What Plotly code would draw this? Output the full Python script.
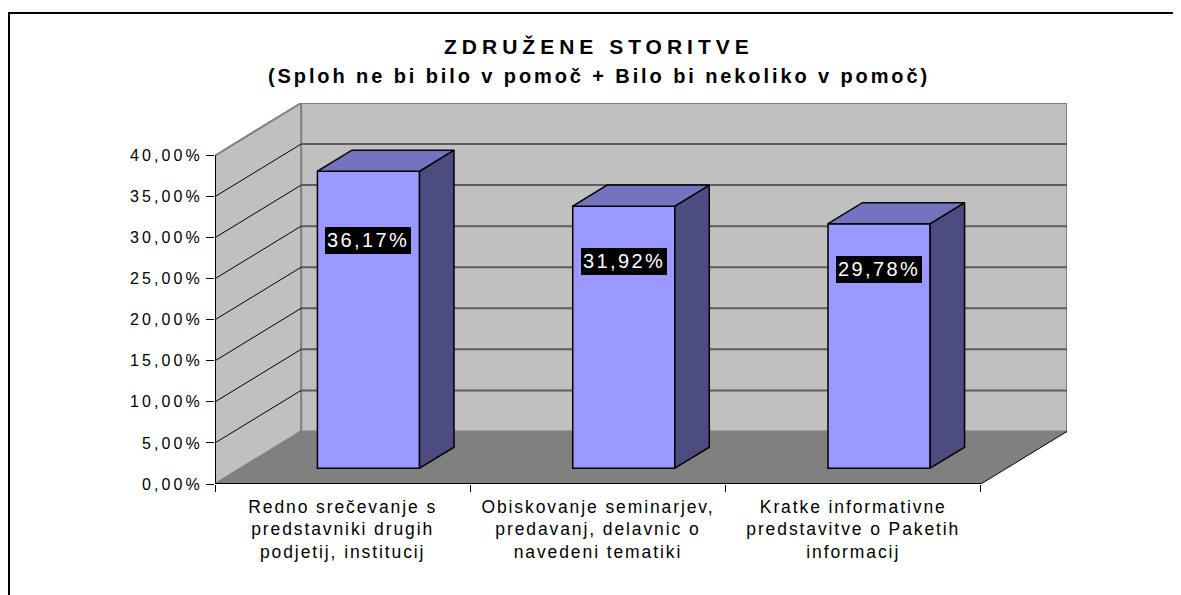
import plotly.graph_objects as go

# ---------------- data ----------------
categories = [
    "Redno srečevanje s<br>predstavniki drugih<br>podjetij, institucij",
    "Obiskovanje seminarjev,<br>predavanj, delavnic o<br>navedeni tematiki",
    "Kratke informativne<br>predstavitve o Paketih<br>informacij",
]
values = [36.17, 31.92, 29.78]
y_tick_values = [0, 5, 10, 15, 20, 25, 30, 35, 40]
y_tick_labels = ["0,00%", "5,00%", "10,00%", "15,00%", "20,00%",
                 "25,00%", "30,00%", "35,00%", "40,00%"]
title_text = "ZDRUŽENE STORITVE"
subtitle_text = "(Sploh ne bi bilo v pomoč + Bilo bi nekoliko v pomoč)"
label_levels = [27.7, 25.2, 24.2]   # height on the bar face where each value box sits

# ---------------- geometry / style ----------------
PAGE_W, PAGE_H = 1181, 595
BODY_MARGIN = 8                      # default page margin around the figure div
W, H = PAGE_W - BODY_MARGIN, PAGE_H - BODY_MARGIN
# plot area in page pixels
PX_L, PX_R, PX_T, PX_B = 215, 1067, 103, 484
Y_MAX = 40
DEPTH_X = 0.3373      # depth shift in category units
DEPTH_Y = 6.40        # depth shift in % units
Z_FRONT, Z_BACK = 0.3, 0.7
HALF_W = 0.2
X_MIN = -0.5
N = len(values)
X_MAX = N - 0.5 + DEPTH_X

FONT = "Liberation Sans, Arial, sans-serif"
FRONT = "#9999FF"
TOP = "#7373BF"
SIDE = "#4C4C80"
WALL = "#C0C0C0"
FLOOR = "#808080"
WALL_EDGE = "#808080"
GRID = "#5E5E5E"


def paper_x(px):
    return (px - PX_L) / (PX_R - PX_L)


def paper_y(py):
    return (PX_B - py) / (PX_B - PX_T)


def spaced(text, ls):
    return "<br>".join(f'<span style="letter-spacing:{ls}px">{t}</span>'
                       for t in text.split("<br>"))


def fmt_pct(v):
    return f"{v:.2f}".replace(".", ",") + "%"


fig = go.Figure()

xs = list(range(N))
zf_x, zb_x = Z_FRONT * DEPTH_X, Z_BACK * DEPTH_X
zf_y, zb_y = Z_FRONT * DEPTH_Y, Z_BACK * DEPTH_Y

# 3D faces of the bars (side + top), computed from the values
for i, v in zip(xs, values):
    xl0, xr0 = i - HALF_W + zf_x, i + HALF_W + zf_x
    xl1, xr1 = i - HALF_W + zb_x, i + HALF_W + zb_x
    fig.add_trace(go.Scatter(
        x=[xr0, xr0, xr1, xr1, xr0],
        y=[zf_y, v + zf_y, v + zb_y, zb_y, zf_y],
        fill="toself", fillcolor=SIDE, mode="lines",
        line=dict(color="black", width=1.5), hoverinfo="skip", showlegend=False))
    fig.add_trace(go.Scatter(
        x=[xl0, xr0, xr1, xl1, xl0],
        y=[v + zf_y, v + zf_y, v + zb_y, v + zb_y, v + zf_y],
        fill="toself", fillcolor=TOP, mode="lines",
        line=dict(color="black", width=1.5), hoverinfo="skip", showlegend=False))

# front faces of the bars
fig.add_trace(go.Bar(
    x=[i + zf_x for i in xs], y=values, base=[zf_y] * N, width=2 * HALF_W,
    marker=dict(color=FRONT, line=dict(color="black", width=1.5)),
    hoverinfo="skip", showlegend=False))

shapes = []
# outer chart border
shapes.append(dict(type="rect", xref="paper", yref="paper",
                   x0=paper_x(9), x1=paper_x(1250), y0=paper_y(650), y1=paper_y(13),
                   line=dict(color="black", width=2), fillcolor="rgba(0,0,0,0)", layer="below"))
# back wall
shapes.append(dict(type="rect", xref="x", yref="y",
                   x0=X_MIN + DEPTH_X, x1=X_MAX, y0=DEPTH_Y, y1=Y_MAX + DEPTH_Y,
                   fillcolor=WALL, line=dict(color=WALL_EDGE, width=2), layer="below"))
# left wall
shapes.append(dict(type="path", xref="x", yref="y",
                   path=f"M {X_MIN},0 L {X_MIN},{Y_MAX} L {X_MIN + DEPTH_X},{Y_MAX + DEPTH_Y} "
                        f"L {X_MIN + DEPTH_X},{DEPTH_Y} Z",
                   fillcolor=WALL, line=dict(color=WALL_EDGE, width=2), layer="below"))
# floor
shapes.append(dict(type="path", xref="x", yref="y",
                   path=f"M {X_MIN},0 L {N - 0.5},0 L {X_MAX},{DEPTH_Y} L {X_MIN + DEPTH_X},{DEPTH_Y} Z",
                   fillcolor=FLOOR, line=dict(width=0), layer="below"))
# gridlines on back wall and left wall
for t in y_tick_values[1:-1]:
    shapes.append(dict(type="line", xref="x", yref="y",
                       x0=X_MIN + DEPTH_X, x1=X_MAX, y0=t + DEPTH_Y, y1=t + DEPTH_Y,
                       line=dict(color=GRID, width=2), layer="below"))
    shapes.append(dict(type="line", xref="x", yref="y",
                       x0=X_MIN, x1=X_MIN + DEPTH_X, y0=t, y1=t + DEPTH_Y,
                       line=dict(color="black", width=1), layer="below"))
# axis lines
shapes.append(dict(type="line", xref="x", yref="y", x0=X_MIN, x1=X_MIN, y0=0, y1=Y_MAX,
                   line=dict(color="black", width=2), layer="below"))
shapes.append(dict(type="line", xref="x", yref="y", x0=X_MIN, x1=N - 0.5, y0=0, y1=0,
                   line=dict(color="black", width=2), layer="below"))
shapes.append(dict(type="line", xref="x", yref="y", x0=N - 0.5, x1=X_MAX, y0=0, y1=DEPTH_Y,
                   line=dict(color="black", width=1), layer="below"))

annotations = []
for i, v, lv in zip(xs, values, label_levels):
    annotations.append(dict(
        x=i + zf_x, y=lv + zf_y, xref="x", yref="y", showarrow=False,
        text=spaced(fmt_pct(v), 2.4), font=dict(size=20, color="white", family=FONT),
        bgcolor="black", borderpad=2, borderwidth=0, width=82, height=22.7,
        align="center", valign="middle", xanchor="center", yanchor="middle"))
annotations.append(dict(
    x=paper_x(598.5), y=paper_y(46.2), xref="paper", yref="paper", showarrow=False,
    text="<b>" + spaced(title_text, 5.0) + "</b>", font=dict(size=21, color="black", family=FONT),
    xanchor="center", yanchor="middle"))
annotations.append(dict(
    x=paper_x(598.5), y=paper_y(76.3), xref="paper", yref="paper", showarrow=False,
    text="<b>" + spaced(subtitle_text, 2.9) + "</b>", font=dict(size=20, color="black", family=FONT),
    xanchor="center", yanchor="middle"))

fig.update_layout(
    width=W, height=H,
    margin=dict(l=PX_L - BODY_MARGIN, r=W - (PX_R - BODY_MARGIN),
                t=PX_T - BODY_MARGIN, b=H - (PX_B - BODY_MARGIN), pad=0),
    paper_bgcolor="white", plot_bgcolor="rgba(0,0,0,0)",
    showlegend=False, font=dict(family=FONT, color="black"),
    shapes=shapes, annotations=annotations,
    xaxis=dict(range=[X_MIN, X_MAX], tickmode="array", tickvals=xs,
               ticktext=[spaced(c, 1.9) for c in categories],
               ticks="", showgrid=False, zeroline=False, showline=False,
               tickfont=dict(size=17.5, color="black", family=FONT),
               ticklabelstandoff=10,
               minor=dict(tickmode="array", tickvals=[i - 0.5 for i in range(N + 1)],
                          ticks="outside", ticklen=7, tickcolor="black", tickwidth=1,
                          showgrid=False),
               fixedrange=True),
    yaxis=dict(range=[0, Y_MAX + DEPTH_Y], tickmode="array", tickvals=y_tick_values,
               ticktext=[spaced(t, 3.1) for t in y_tick_labels],
               ticks="outside", ticklen=8, tickcolor="black", tickwidth=1,
               showgrid=False, zeroline=False, showline=False,
               tickfont=dict(size=16, color="black", family=FONT),
               fixedrange=True),
)

fig.write_html("out.html")
